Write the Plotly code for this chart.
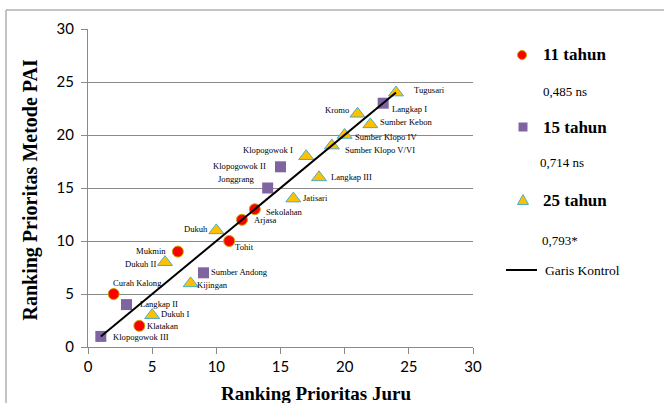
import plotly.graph_objects as go

# ---- data -------------------------------------------------------------
names_11 = ["Curah Kalong", "Klatakan", "Mukmin", "Tohit", "Arjasa", "Sekolahan"]
juru_11 = [2, 4, 7, 11, 12, 13]
pai_11 = [5, 2, 9, 10, 12, 13]

names_15 = ["Klopogowok III", "Langkap II", "Sumber Andong", "Jonggrang",
            "Klopogowok II", "Langkap I"]
juru_15 = [1, 3, 9, 14, 15, 23]
pai_15 = [1, 4, 7, 15, 17, 23]

names_25 = ["Dukuh I", "Kijingan", "Dukuh II", "Dukuh", "Jatisari", "Langkap III",
            "Klopogowok I", "Sumber Klopo V/VI", "Sumber Klopo IV", "Sumber Kebon",
            "Kromo", "Tugusari"]
juru_25 = [5, 8, 6, 10, 16, 18, 17, 19, 20, 22, 21, 24]
pai_25 = [3, 6, 8, 11, 14, 16, 18, 19, 20, 21, 22, 24]

control_x = [1, 24]
control_y = [1, 24]

series_labels = ["11 tahun", "15 tahun", "25 tahun"]
series_stats = ["0,485 ns", "0,714 ns", "0,793*"]
control_label = "Garis Kontrol"

x_title = "Ranking Prioritas Juru"
y_title = "Ranking Prioritas Metode PAI"
tick_vals = [0, 5, 10, 15, 20, 25, 30]

# ---- styling ------------------------------------------------------------
W, H = 664, 403
ML, MR, MT, MB = 88, 191, 29, 56
SERIF = "Liberation Serif, Times New Roman, serif"
GRID = "#8a8a8a"

# point-label placement: (anchor side, x offset px, y offset px downward)
place_11 = [("L", -2, -11), ("L", 7, 0), ("R", -11, -1), ("L", 5, 6),
            ("L", 11, 0), ("L", 10, 3)]
place_15 = [("L", 11, 1), ("L", 12, -1), ("L", 6, -1), ("R", -12, -9),
            ("R", -14, -1), ("L", 8, 6)]
place_25 = [("L", 8, -1), ("L", 5, 2), ("R", -8, 2), ("R", -7, -1),
            ("L", 9, -1), ("L", 11, 0), ("R", -12, -6), ("L", 12, 4),
            ("L", 9, 2), ("L", 9, -2), ("R", -8, -4), ("L", 17, -3)]


def px(x):
    return (x - ML) / (W - ML - MR)


def py(y):
    return (H - MB - y) / (H - MT - MB)


label_font = dict(family=SERIF, size=8.6, color="black")

fig = go.Figure()

fig.add_trace(go.Scatter(
    x=juru_11, y=pai_11, mode="markers",
    marker=dict(symbol="circle", size=11, color="#FF0000",
                line=dict(color="#C8A400", width=1)),
))
fig.add_trace(go.Scatter(
    x=juru_15, y=pai_15, mode="markers",
    marker=dict(symbol="square", size=11, color="#8064A2", line=dict(width=0)),
))
fig.add_trace(go.Scatter(
    x=juru_25, y=pai_25, mode="markers",
    marker=dict(symbol="triangle-up", size=13, color="#FFC000",
                line=dict(color="#4BACC6", width=1)),
))
fig.add_trace(go.Scatter(
    x=control_x, y=control_y, mode="lines",
    line=dict(color="black", width=2),
))

annotations = []
for names, xs, ys, places in ((names_11, juru_11, pai_11, place_11),
                              (names_15, juru_15, pai_15, place_15),
                              (names_25, juru_25, pai_25, place_25)):
    for name, xv, yv, (side, dx, dy) in zip(names, xs, ys, places):
        annotations.append(dict(
            x=xv, y=yv, xref="x", yref="y", text=name, showarrow=False,
            xanchor="left" if side == "L" else "right", yanchor="middle",
            xshift=dx, yshift=-dy, font=label_font, borderpad=0,
        ))

shapes = [
    # outer chart frame
    dict(type="rect", xref="paper", yref="paper",
         x0=px(6), x1=px(W + 20), y0=py(H + 20), y1=py(10),
         line=dict(color=GRID, width=1), fillcolor="rgba(0,0,0,0)", layer="below"),
    # legend keys
    dict(type="circle", xref="paper", yref="paper", xsizemode="pixel", ysizemode="pixel",
         xanchor=px(522), yanchor=py(55), x0=-4.5, x1=4.5, y0=-4.5, y1=4.5,
         fillcolor="#FF0000", line=dict(color="#C8A400", width=1)),
    dict(type="rect", xref="paper", yref="paper", xsizemode="pixel", ysizemode="pixel",
         xanchor=px(523), yanchor=py(127), x0=-4.5, x1=4.5, y0=-4.5, y1=4.5,
         fillcolor="#8064A2", line=dict(width=0)),
    dict(type="path", xref="paper", yref="paper", xsizemode="pixel", ysizemode="pixel",
         xanchor=px(523), yanchor=py(200),
         path="M -5.5 -4.5 L 5.5 -4.5 L 0 5.5 Z",
         fillcolor="#FFC000", line=dict(color="#4BACC6", width=1)),
    dict(type="line", xref="paper", yref="paper",
         x0=px(506), x1=px(537), y0=py(270), y1=py(270),
         line=dict(color="black", width=2)),
]

big = dict(family=SERIF, size=17, color="black")
small = dict(family=SERIF, size=13, color="black")
legend_texts = [
    dict(x=px(541), y=py(55), text="<b>%s</b>" % series_labels[0], font=big),
    dict(x=px(540.5), y=py(92), text=series_stats[0], font=small),
    dict(x=px(541), y=py(127), text="<b>%s</b>" % series_labels[1], font=big),
    dict(x=px(538), y=py(162), text=series_stats[1], font=small),
    dict(x=px(541), y=py(200), text="<b>%s</b>" % series_labels[2], font=big),
    dict(x=px(540), y=py(240.5), text=series_stats[2], font=small),
    dict(x=px(543), y=py(270), text=control_label,
         font=dict(family=SERIF, size=13.5, color="black")),
]
for a in legend_texts:
    a.update(xref="paper", yref="paper", xanchor="left", yanchor="middle",
             showarrow=False)
annotations += legend_texts

annotations += [
    dict(x=px(316), y=py(393), xref="paper", yref="paper", showarrow=False,
         xanchor="center", yanchor="middle", text="<b>%s</b>" % x_title,
         font=dict(family=SERIF, size=19, color="black")),
    dict(x=px(29.5), y=py(190), xref="paper", yref="paper", showarrow=False,
         xanchor="center", yanchor="middle", textangle=-90,
         text="<b>%s</b>" % y_title,
         font=dict(family=SERIF, size=20, color="black")),
]

axis_common = dict(
    range=[0, 30], tickvals=tick_vals, ticks="outside", ticklen=6,
    tickcolor=GRID, showline=True, linecolor=GRID, linewidth=1,
    tickfont=dict(family="Lato, Carlito, sans-serif", size=15, color="black"),
    zeroline=False, fixedrange=True,
)

fig.update_layout(
    width=W, height=H,
    margin=dict(l=ML, r=MR, t=MT, b=MB),
    paper_bgcolor="white", plot_bgcolor="white",
    showlegend=False,
    xaxis=dict(**axis_common, showgrid=False),
    yaxis=dict(**axis_common, showgrid=True, gridcolor=GRID, gridwidth=1,
               ticklabelstandoff=4),
    shapes=shapes,
    annotations=annotations,
)

fig.write_html("out.html")
